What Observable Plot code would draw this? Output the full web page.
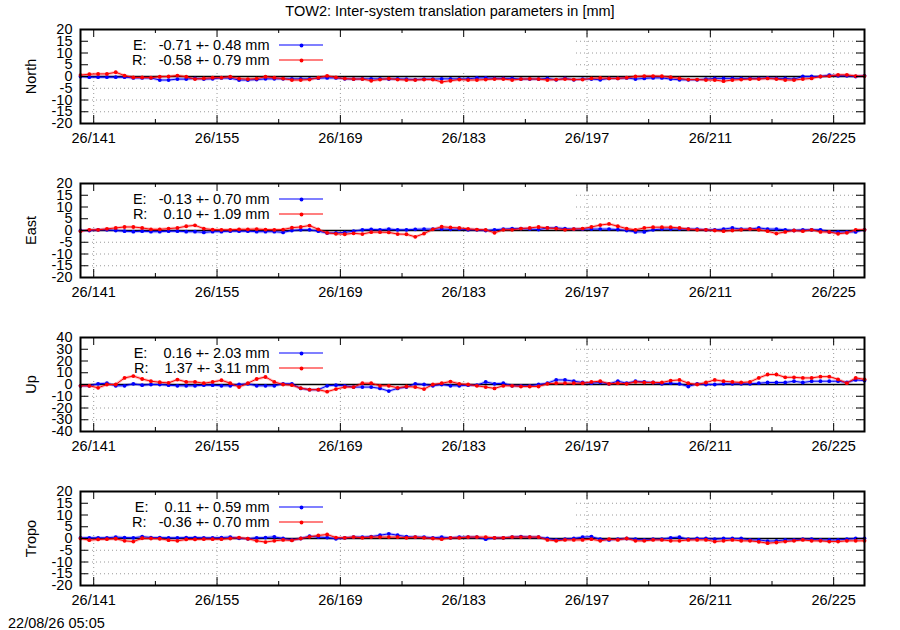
<!DOCTYPE html>
<html><head><meta charset="utf-8">
<script src="https://cdn.jsdelivr.net/npm/d3@7"></script>
<script src="https://cdn.jsdelivr.net/npm/@observablehq/plot@0.6"></script>
<style>
body{margin:0;background:#fff;}
#wrap{position:relative;width:900px;height:630px;font-family:"Liberation Sans",Arial,sans-serif;font-size:14.5px;color:#000;overflow:hidden;background:#fff}
#title{position:absolute;top:3px;left:0;width:900px;text-align:center;line-height:16px}
#foot{position:absolute;left:8px;top:615px;line-height:16px}
#wrap svg{position:absolute;left:0}
</style></head><body>
<div id="wrap"><div id="title">TOW2: Inter-system translation parameters in [mm]</div><div id="foot">22/08/26 05:05</div></div>
<script>
// ---------- data ----------
const days = [139.5,140.5,141.5,142.5,143.5,144.5,145.5,146.5,147.5,148.5,149.5,150.5,151.5,152.5,153.5,154.5,155.5,156.5,157.5,158.5,159.5,160.5,161.5,162.5,163.5,164.5,165.5,166.5,167.5,168.5,169.5,170.5,171.5,172.5,173.5,174.5,175.5,176.5,177.5,178.5,179.5,180.5,181.5,182.5,183.5,184.5,185.5,186.5,187.5,188.5,189.5,190.5,191.5,192.5,193.5,194.5,195.5,196.5,197.5,198.5,199.5,200.5,201.5,202.5,203.5,204.5,205.5,206.5,207.5,208.5,209.5,210.5,211.5,212.5,213.5,214.5,215.5,216.5,217.5,218.5,219.5,220.5,221.5,222.5,223.5,224.5,225.5,226.5,227.5,228.5];

const panelNames = ["North","East","Up","Tropo"];
const meanE = [-0.71,-0.13,0.16,0.11];
const sigmaE = [0.48,0.70,2.03,0.59];
const meanR = [-0.58,0.10,1.37,-0.36];
const sigmaR = [0.79,1.09,3.11,0.70];

const northE = [0,-0.3,-0.3,-0.3,-0.3,-0.3,-0.6,-0.6,-0.6,-1.5,-1.5,-1.1,-1.1,-0.8,-1.1,-1.0,-0.6,-0.7,-1.5,-1.5,-1.3,-1.0,-1.0,-1.0,-1.0,-1.0,-1.0,-0.7,-0.6,-0.6,-1.0,-1.1,-1.0,-1.0,-1.0,-1.1,-1.0,-1.1,-1.3,-1.1,-1.1,-1.0,-1.0,-1.0,-1.0,
  -0.6,-0.6,-0.8,-0.8,-0.8,-1.1,-1.1,-1.1,-0.8,-1.4,-0.8,-1.4,-1.1,-1.1,-1.4,-0.8,-0.8,-0.6,-1.1,-0.8,-0.6,-0.6,-1.1,-1.4,-1.4,-1.4,-1.1,-0.8,-0.8,-0.8,-0.8,-0.8,-0.8,-0.6,-0.8,-0.8,-1.1,0,0,0,0.6,0.3,0.3,0,0.3];
const northR = [0.6,1.0,1.1,1.1,1.8,0.4,-0.4,-0.4,-0.5,-0.1,0,0.4,-0.1,-1.1,-0.8,-0.5,-0.5,-0.1,-0.9,-1.1,-0.9,-0.1,-0.5,-0.9,-1.5,-1.5,-1.3,-0.5,0.3,-0.4,-0.9,-1.1,-1.1,-1.8,-1.3,-0.9,-1.3,-1.5,-1.5,-1.3,-1.3,-2.3,-1.8,-1.3,-1.5,
  -1.5,-1.3,-1.1,-1.1,-1.5,-1.1,-1.0,-1.1,-1.5,-1.3,-1.1,-1.3,-1.3,-0.8,-0.6,-0.8,-0.8,-0.5,0,0.2,0.2,0.1,-0.3,-0.8,-1.3,-1.3,-1.5,-1.5,-2.0,-1.5,-1.3,-1.1,-1.1,-0.8,-1.1,-1.5,-1.5,-1.1,-0.8,0,0.2,0.7,0.7,0.2,0.2];

const eastE = [0,0,0.3,0.3,0,-0.3,-0.5,-0.3,-0.5,-0.5,-0.3,-0.3,-0.5,-0.5,-0.8,-0.5,-0.5,-0.3,-0.3,-0.3,-0.5,-0.5,-0.5,-0.8,0,0.3,0.3,-0.3,-1.1,-1.0,-0.8,-0.3,0.3,0.5,0.3,0.6,0.3,0.3,0.5,0.6,0.6,0.6,0.5,0.6,0.3,
  0.3,0,0.3,0.6,0.8,0.8,0.6,0.4,1.1,1.1,0.8,0.6,0.6,0.6,0.6,0.6,0.4,0,-0.6,-0.6,0.3,0.6,0.6,0.6,0.6,0.6,0.3,0.3,0.6,1.1,0.6,0.6,1.1,0.6,0.6,0.3,0,0.3,0.3,0.3,-0.6,-0.6,-0.6,-0.6,0.3];
const eastR = [-0.3,0.3,0.3,0.7,1.1,1.5,1.5,1.1,0.5,0.5,0.8,1.1,1.8,2.2,0.8,0.4,0.3,0.3,0.5,0.5,0.6,0.4,0.3,0.4,1.2,1.5,2.1,0.5,-1.0,-1.4,-1.6,-1.2,-1.5,-0.7,-0.7,-0.8,-1.5,-1.6,-2.7,-1.3,0.5,1.6,1.3,1.1,0.7,
  0.4,0.3,-1.0,0.3,0.3,0.8,1.1,1.5,1.1,0.8,0.3,0.6,0.8,1.5,2.3,2.8,1.8,0.8,0.3,1.1,1.4,1.4,1.4,1.1,0.6,0.3,0.3,0,-0.3,0,0.3,0.6,0.3,-0.3,-1.3,-0.6,0,-0.3,0.3,-0.6,-0.6,-1.4,-1.0,0.3,0.3];

const upE = [-1.1,-1.1,0.6,1.1,-1.1,-1.1,0.6,-0.6,0,0,-0.6,-1.1,-1.1,-1.1,-0.6,-0.6,-1.1,-1.1,0,0.6,-1.1,-1.1,-1.1,0.6,0.6,-3.3,-4.4,-4.4,-1.1,-0.6,-1.1,-2.2,-2.2,-2.2,-3.3,-5.6,-3.3,-2.2,0.6,0,-1.1,0,-1.1,-1.1,-0.6,
  -0.6,2.2,0.6,1.1,-1.1,-1.1,-1.1,0,1.1,3.9,3.9,2.8,1.7,1.1,1.7,0.6,2.8,1.1,2.8,2.2,1.7,0.6,1.1,0.6,-1.7,0.6,0,0,0.6,0.6,0.6,0.6,1.1,1.7,1.7,1.7,2.8,1.7,2.8,2.8,2.8,2.8,1.7,3.9,3.3];
const upR = [-1.1,-1.1,-2.8,0,0,5.6,7.2,4.7,2.8,1.9,1.4,4.2,2.2,2.2,1.1,2.2,3.6,1.1,-2.2,1.1,4.7,6.4,2.2,0,-0.6,-3.1,-4.4,-4.4,-6.1,-3.9,-2.2,-2.2,1.1,1.1,-1.1,-1.1,-2.8,-1.7,-2.2,-3.9,0,1.1,2.5,0.6,0,
  -1.1,-2.2,-3.3,-1.1,-1.1,-1.7,-1.7,-1.7,0.6,1.1,1.1,1.1,1.1,2.2,2.8,0.6,1.1,0.6,2.2,1.7,1.7,1.7,3.3,3.9,1.1,0,1.7,3.9,2.8,2.2,1.7,2.2,5.6,8.5,8.5,6.1,6.1,5.6,5.6,6.7,6.7,4.4,1.1,5.6,4.4];

const tropoE = [0.3,0.3,0.3,0.3,0.6,0.4,0.3,0.8,0.4,0.4,0.3,0.3,0.4,0.4,0.3,0.3,0.4,0.6,0.1,-0.1,0.3,0.4,0.7,0,-0.6,0,1.0,0.6,0.4,-0.1,0.3,0.6,0.6,0.8,1.4,2.0,1.4,0.8,0.6,0.6,0.3,0.6,0.3,0.6,0.6,
  0.6,-0.3,0.3,0.3,0.6,0.8,0.6,0.6,0,-0.6,-0.3,0,0.6,0.8,-0.3,-0.6,-0.3,0,-0.3,-0.6,-0.3,-0.3,0.3,0.6,-0.3,0,0,-0.3,0,0,0,-0.6,-0.6,-1.1,-1.0,-0.6,-0.6,-0.3,-0.3,-0.6,-0.6,-0.6,-0.3,0,0];
const tropoR = [0,-0.7,-0.4,-0.3,-0.1,-1.0,-1.3,0.1,0,-0.1,-0.7,-1.0,-0.4,-0.4,-0.3,-0.3,-0.3,0,0.4,-0.1,-1.0,-1.5,-1.0,-0.6,-0.8,0,0.7,1.3,1.7,0.4,0.3,0.6,0.3,0.6,0.6,0.6,0.6,0.3,0.6,0.3,0,-0.3,0.3,0.3,0.6,
  0.6,0.6,0.3,0.3,0.6,0.6,0.6,0.6,-0.6,-1.0,-0.6,-0.6,-0.6,-0.3,-1.0,-0.3,-0.6,0,-1.0,-1.0,-0.6,-0.6,-1.0,-1.0,-0.6,-0.6,-0.6,-1.3,-1.0,-0.6,-1.0,-1.0,-1.4,-2.0,-1.7,-1.3,-1.0,-0.6,-1.0,-1.0,-1.3,-1.3,-1.0,-1.0,-1.0];

const seriesE = [northE, eastE, upE, tropoE];
const seriesR = [northR, eastR, upR, tropoR];

const xMajor = [141,155,169,183,197,211,225];
const xMinor = [148,162,176,190,204,218];
const yTicks20 = [-20,-15,-10,-5,0,5,10,15,20];
const yTicks40 = [-40,-30,-20,-10,0,10,20,30,40];
const yTickSets = [yTicks20, yTicks20, yTicks40, yTicks20];
const yearPrefix = "26/";

// ---------- layout ----------
const W = 900, ML = 80, MR = 36, PH = 94, MT = 10, MB = 30;
const FW = W - ML - MR;
const panelTops = [29, 183, 337, 491];
const BLUE = "#0000ff", RED = "#ff0000";
const keyW = 493, keyH = 41;
const FONT = '"Liberation Sans", Arial, sans-serif';

function fmt(m, s) {
  return (m.toFixed(2)).padStart(6, " ") + " +- " + s.toFixed(2) + " mm";
}

const wrap = document.getElementById("wrap");

panelNames.forEach((name, k) => {
  const yt = yTickSets[k];
  const yMax = yt[yt.length - 1];
  const gridY = yt.filter(v => v !== 0 && Math.abs(v) !== yMax);
  const dataE = days.map((d, i) => ({day: d, v: seriesE[k][i]}));
  const dataR = days.map((d, i) => ({day: d, v: seriesR[k][i]}));
  const labE = "E:  " + fmt(meanE[k], sigmaE[k]);
  const labR = "R:  " + fmt(meanR[k], sigmaR[k]);

  const svg = Plot.plot({
    width: W, height: PH + MT + MB,
    marginLeft: ML, marginRight: MR, marginTop: MT, marginBottom: MB,
    style: {fontFamily: FONT, fontSize: "14.5px", background: "transparent", whiteSpace: "pre", overflow: "visible"},
    x: {domain: [days[0], days[days.length - 1]]},
    y: {domain: [-yMax, yMax]},
    marks: [
      Plot.ruleY(gridY, {y: d => d, stroke: "#9a9a9a", strokeDasharray: "1,3", strokeWidth: 1}),
      Plot.ruleX(xMajor, {x: d => d, stroke: "#9a9a9a", strokeDasharray: "1,3", strokeWidth: 1}),
      Plot.frame({fill: "white", stroke: "none", insetRight: FW - keyW, insetBottom: PH - keyH}),
      Plot.ruleY([0], {y: d => d, stroke: "black", strokeWidth: 1.6}),
      Plot.line(dataE, {x: "day", y: "v", stroke: BLUE, strokeWidth: 3, strokeOpacity: 0.25}),
      Plot.line(dataE, {x: "day", y: "v", stroke: BLUE, strokeWidth: 1}),
      Plot.dot(dataE, {x: "day", y: "v", fill: BLUE, r: 1.9}),
      Plot.line(dataR, {x: "day", y: "v", stroke: RED, strokeWidth: 3, strokeOpacity: 0.25}),
      Plot.line(dataR, {x: "day", y: "v", stroke: RED, strokeWidth: 1}),
      Plot.dot(dataR, {x: "day", y: "v", fill: RED, r: 1.9}),
      Plot.tickX(xMajor, {x: d => d, insetTop: PH - 8, stroke: "black"}),
      Plot.tickX(xMajor, {x: d => d, insetBottom: PH - 8, stroke: "black"}),
      Plot.tickX(xMinor, {x: d => d, insetTop: PH - 4, stroke: "black"}),
      Plot.tickX(xMinor, {x: d => d, insetBottom: PH - 4, stroke: "black"}),
      Plot.tickY(yt, {y: d => d, insetRight: FW - 8, stroke: "black"}),
      Plot.tickY(yt, {y: d => d, insetLeft: FW - 8, stroke: "black"}),
      Plot.frame({stroke: "black", strokeWidth: 2}),
      Plot.axisX(xMajor, {tickSize: 0, tickPadding: 9, tickFormat: d => yearPrefix + d, label: null, fill: "black"}),
      Plot.axisY(yt, {tickSize: 0, tickPadding: 8, tickFormat: d => String(d), label: null, fill: "black"}),
      Plot.text([name], {frameAnchor: "left", dx: -49, rotate: -90, textAnchor: "middle", fill: "black"}),
      Plot.text([labE], {frameAnchor: "top-left", dx: 189, dy: 16, textAnchor: "end", lineAnchor: "middle", fill: "black"}),
      Plot.text([labR], {frameAnchor: "top-left", dx: 189, dy: 31, textAnchor: "end", lineAnchor: "middle", fill: "black"}),
      Plot.dot([labE], {frameAnchor: "top-left", dx: 221, dy: 16, r: 1.9, fill: BLUE}),
      Plot.dot([labR], {frameAnchor: "top-left", dx: 221, dy: 31, r: 1.9, fill: RED})
    ]
  });
  // legend sample lines
  const s = d3.select(svg);
  [[16, BLUE], [31, RED]].forEach(([dy, c]) => {
    s.append("line").attr("x1", ML + 199).attr("x2", ML + 243)
      .attr("y1", MT + dy).attr("y2", MT + dy)
      .attr("stroke", c).attr("stroke-width", 1.2);
  });
  svg.style.top = (panelTops[k] - MT) + "px";
  wrap.appendChild(svg);
});
</script>
</body></html>
